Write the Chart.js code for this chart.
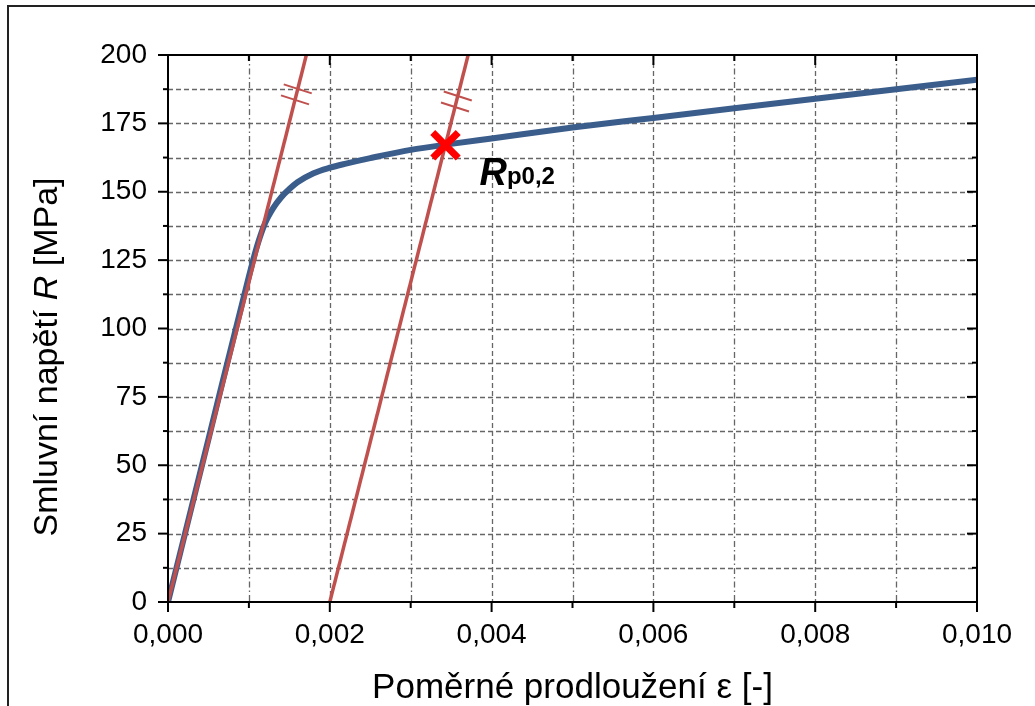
<!DOCTYPE html>
<html><head><meta charset="utf-8">
<script src="https://cdn.jsdelivr.net/npm/chart.js@4.4.1/dist/chart.umd.min.js"></script>
<style>html,body{margin:0;padding:0;background:#fff}#wrap{width:1035px;height:706px;position:relative}</style>
</head><body><div id="wrap"><canvas id="c"></canvas></div>
<script>
// ---- data ----
const strain = [0, 0.0005, 0.001, 0.0011, 0.0012, 0.0013, 0.0014, 0.0015, 0.0016, 0.0018, 0.002, 0.0022, 0.0025, 0.003, 0.0035, 0.004, 0.005, 0.006, 0.007, 0.008, 0.009, 0.010];
const stress = [0, 59.5, 119, 130, 138.5, 144, 148, 151, 153.5, 156.8, 158.8, 160.3, 162.3, 165.3, 167.5, 169.5, 173.5, 177, 180.5, 184, 187.5, 191];
const offsetLine1Strain = [0, 0.00171];
const offsetLine1Stress = [0, 200];
const offsetLine2Strain = [0.002, 0.00371];
const offsetLine2Stress = [0, 200];
const rp02Strain = [0.00343];
const rp02Stress = [167];
const hatch1Stress = [187.6, 183.6];
const hatch2Stress = [185, 181];
const xTickValues = [0, 0.002, 0.004, 0.006, 0.008, 0.010];
const xTickLabels = ['0,000', '0,002', '0,004', '0,006', '0,008', '0,010'];
const xMinorValues = [0.001, 0.003, 0.005, 0.007, 0.009];
const yTickValues = [0, 25, 50, 75, 100, 125, 150, 175, 200];
const yTickLabels = ['0', '25', '50', '75', '100', '125', '150', '175', '200'];
const yMinorValues = [12.5, 37.5, 62.5, 87.5, 112.5, 137.5, 162.5, 187.5];
const yTitleParts = ['Smluvní napětí ', 'R', ' [MPa]'];
const xTitle = 'Poměrné prodloužení ε [-]';
const rpMain = 'R';
const rpSub = 'p0,2';

const FONT = "'Liberation Sans', Arial, sans-serif";
const BLUE = '#3b5d8c';
const RED = '#c0504d';

function pts(xs, ys) { return xs.map((x, i) => ({x: x, y: ys[i]})); }

function lineOnOffset(xs, ys, R) {
  const t = (R - ys[0]) / (ys[1] - ys[0]);
  return xs[0] + t * (xs[1] - xs[0]);
}

const decor = {
  id: 'decor',
  beforeDatasetsDraw(chart) {
    const {ctx, chartArea: a, scales: {x, y}} = chart;
    ctx.save();
    ctx.lineWidth = 1.3;
    ctx.strokeStyle = '#666';
    ctx.setLineDash([5, 3]);
    [...yTickValues, ...yMinorValues].forEach(v => {
      if (v <= 0 || v >= 200) return;
      const py = Math.round(y.getPixelForValue(v)) + 0.5;
      ctx.beginPath(); ctx.moveTo(a.left, py); ctx.lineTo(a.right, py); ctx.stroke();
    });
    xTickValues.forEach(v => {
      if (v <= 0 || v >= 0.01) return;
      const px = Math.round(x.getPixelForValue(v)) + 0.5;
      ctx.beginPath(); ctx.moveTo(px, a.top); ctx.lineTo(px, a.bottom); ctx.stroke();
    });
    ctx.setLineDash([6, 3, 1.5, 3]);
    xMinorValues.forEach(v => {
      const px = Math.round(x.getPixelForValue(v)) + 0.5;
      ctx.beginPath(); ctx.moveTo(px, a.top); ctx.lineTo(px, a.bottom); ctx.stroke();
    });
    ctx.restore();
  },
  afterDatasetsDraw(chart) {
    const {ctx, scales: {x, y}} = chart;
    ctx.save();
    ctx.strokeStyle = RED;
    ctx.lineWidth = 2;
    const drawHatch = (xs, ys, list) => {
      list.forEach(R => {
        const px = x.getPixelForValue(lineOnOffset(xs, ys, R));
        const py = y.getPixelForValue(R);
        ctx.beginPath(); ctx.moveTo(px - 14, py - 4.5); ctx.lineTo(px + 14, py + 4.5); ctx.stroke();
      });
    };
    drawHatch(offsetLine1Strain, offsetLine1Stress, hatch1Stress);
    drawHatch(offsetLine2Strain, offsetLine2Stress, hatch2Stress);
    ctx.restore();
  },
  afterDraw(chart) {
    const {ctx, chartArea: a, scales: {x, y}} = chart;
    ctx.save();
    ctx.strokeStyle = '#000';
    ctx.lineWidth = 2;
    ctx.setLineDash([]);
    ctx.strokeRect(a.left, a.top, a.right - a.left, a.bottom - a.top);
    const tick = (x1, y1, x2, y2) => { ctx.beginPath(); ctx.moveTo(x1, y1); ctx.lineTo(x2, y2); ctx.stroke(); };
    yTickValues.forEach(v => {
      const py = y.getPixelForValue(v);
      tick(a.left - 10, py, a.left, py);
      tick(a.right - 10, py, a.right, py);
    });
    yMinorValues.forEach(v => {
      const py = y.getPixelForValue(v);
      tick(a.left - 5, py, a.left, py);
      tick(a.right - 5, py, a.right, py);
    });
    xTickValues.forEach(v => {
      const px = x.getPixelForValue(v);
      tick(px, a.bottom, px, a.bottom + 10);
      tick(px, a.top, px, a.top + 10);
    });
    xMinorValues.forEach(v => {
      const px = x.getPixelForValue(v);
      tick(px, a.bottom, px, a.bottom + 6);
      tick(px, a.top, px, a.top + 6);
    });
    ctx.strokeStyle = '#222';
    ctx.lineWidth = 2;
    ctx.beginPath(); ctx.moveTo(8, 706); ctx.lineTo(8, 6); ctx.lineTo(1035, 6); ctx.stroke();

    ctx.fillStyle = '#000';
    ctx.textBaseline = 'middle';
    const fonts = ['34px ' + FONT, 'italic 34px ' + FONT, '34px ' + FONT];
    const widths = yTitleParts.map((s, i) => { ctx.font = fonts[i]; return ctx.measureText(s).width; });
    const total = widths.reduce((p, c) => p + c, 0);
    ctx.translate(48, 357);
    ctx.rotate(-Math.PI / 2);
    let cx = -total / 2;
    ctx.textAlign = 'left';
    yTitleParts.forEach((s, i) => { ctx.font = fonts[i]; ctx.fillText(s, cx, 0); cx += widths[i]; });
    ctx.setTransform(1, 0, 0, 1, 0, 0);

    const mx = x.getPixelForValue(rp02Strain[0]);
    const my = y.getPixelForValue(rp02Stress[0]);
    ctx.textBaseline = 'alphabetic';
    ctx.textAlign = 'left';
    ctx.font = 'italic bold 38px ' + FONT;
    ctx.fillText(rpMain, mx + 34, my + 40);
    const rw = ctx.measureText(rpMain).width;
    ctx.font = 'bold 24px ' + FONT;
    ctx.fillText(rpSub, mx + 34 + rw, my + 39);
    ctx.restore();
  }
};

new Chart(document.getElementById('c'), {
  type: 'line',
  data: {
    datasets: [
      {label: 'Tahová křivka', data: pts(strain, stress), borderColor: BLUE, borderWidth: 6, pointRadius: 0, cubicInterpolationMode: 'monotone', fill: false, order: 3},
      {label: 'Elastická přímka', data: pts(offsetLine1Strain, offsetLine1Stress), borderColor: RED, borderWidth: 3.5, pointRadius: 0, fill: false, order: 2},
      {label: 'Posunutá přímka 0,2 %', data: pts(offsetLine2Strain, offsetLine2Stress), borderColor: RED, borderWidth: 3.5, pointRadius: 0, fill: false, order: 2},
      {type: 'scatter', label: 'Rp0,2', data: pts(rp02Strain, rp02Stress), pointStyle: 'crossRot', pointRadius: 18, pointBorderWidth: 7, borderColor: '#ff0000', backgroundColor: '#ff0000', pointHoverRadius: 18, order: 1, clip: false}
    ]
  },
  options: {
    responsive: true,
    maintainAspectRatio: false,
    animation: false,
    events: [],
    layout: {padding: {top: 55, right: 58, left: 0, bottom: 0}},
    plugins: {legend: {display: false}, tooltip: {enabled: false}},
    scales: {
      x: {
        type: 'linear', min: 0, max: 0.01,
        afterBuildTicks: s => { s.ticks = xTickValues.map(v => ({value: v})); },
        afterFit: s => { s.height = 104; },
        grid: {display: false, drawTicks: false},
        border: {display: false},
        ticks: {autoSkip: false, maxRotation: 0, padding: 16, color: '#000', font: {family: FONT, size: 28},
          callback: (v, i) => xTickLabels[i]},
        title: {display: true, text: xTitle, color: '#000', font: {family: FONT, size: 35, lineHeight: 1}, padding: 0}
      },
      y: {
        type: 'linear', min: 0, max: 200,
        afterBuildTicks: s => { s.ticks = yTickValues.map(v => ({value: v})); },
        afterFit: s => { s.width = 168; },
        grid: {display: false, drawTicks: false},
        border: {display: false},
        ticks: {autoSkip: false, padding: 21, color: '#000', font: {family: FONT, size: 28},
          callback: (v, i) => yTickLabels[i]}
      }
    }
  },
  plugins: [decor]
});
</script>
</body></html>
